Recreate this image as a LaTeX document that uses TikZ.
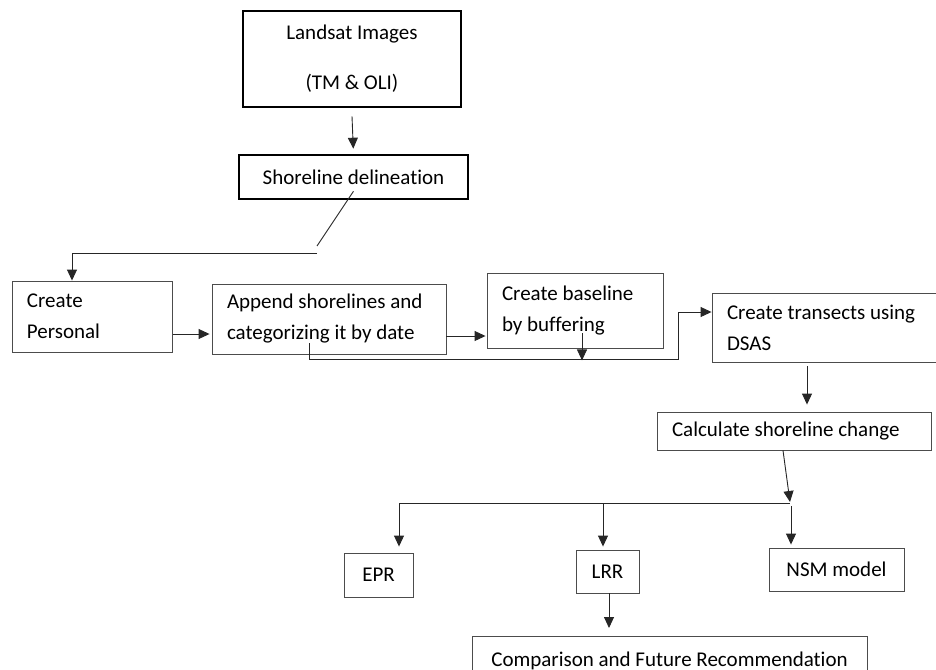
\documentclass[tikz,border=0pt]{standalone}
\usepackage{fontspec}
\setmainfont{Carlito}[Ligatures=NoCommon]
\usepackage{tikz}
\usetikzlibrary{arrows.meta,positioning}
\tikzset{
  box/.style   = {draw=black!70, line width=0.9pt, fill=white, inner xsep=15pt, inner ysep=0pt,
                  align=flush left, font=\fontsize{21}{31}\selectfont},
  tbox/.style  = {box, draw=black, line width=2.6pt, align=center},
  sbox/.style  = {box, align=center, inner xsep=0pt},
  wire/.style  = {line width=0.9pt, black!85},
  arr/.style   = {wire, -{Triangle[length=11pt,width=10pt]}},
}

\begin{document}
\begin{tikzpicture}[x=1pt,y=-1pt]
  \useasboundingbox (0,0) rectangle (936,669);
  \node[tbox, minimum width=218pt, minimum height=96pt] (land) at (352,59) {Landsat Images\\[19pt](TM \& OLI)};
  \node[tbox, minimum width=229pt, minimum height=44pt] (shore) at (353.5,177) {Shoreline delineation};
  \node[box, text width=130pt, minimum height=71pt] (pers) at (92,316.5) {Create\\Personal};
  \node[box, text width=204pt, minimum height=70pt] (app) at (329,319) {Append shorelines and\\categorizing it by date};
  \node[box, text width=146pt, minimum height=75pt] (base) at (575,310.5) {Create baseline\\by buffering};
  \node[box, text width=203pt, minimum height=69pt] (dsas) at (828.5,327.5) {Create transects using\\DSAS};
  \node[box, text width=244pt, minimum height=38pt] (calc) at (794,431) {Calculate shoreline change};
  \node[sbox, minimum width=69pt, minimum height=44pt] (epr) at (378.5,575) {EPR};
  \node[sbox, minimum width=63pt, minimum height=43pt] (lrr) at (607.5,571.5) {LRR};
  \node[sbox, minimum width=135pt, minimum height=43pt] (nsm) at (836.5,569.5) {NSM model};
  \node[sbox, minimum width=395pt, minimum height=48pt, anchor=north] (comp) at (669.5,636) {Comparison and Future Recommendation};

  \coordinate (kink)  at (317,246);
  \coordinate (turn)  at (72,253);
  \coordinate (loopa) at (309,343);
  \coordinate (loopb) at (678,359);
  \coordinate (split) at (790,502);
  \coordinate (hl)    at (399,503);
  \coordinate (hm)    at (603,503);
  \coordinate (hr)    at (791,506);
  \coordinate (lb)    at ([xshift=1.5pt]lrr.south);

  \draw[arr, shorten >=5pt] ([yshift=-8pt]land.south) -- (shore.north);
  \draw[wire] ([yshift=9pt]shore.south) -- (kink);
  \draw[arr] (kink |- turn) -- (turn) -- (turn |- pers.north);
  \draw[arr, shorten <=1pt, shorten >=2pt] ([yshift=-17.5pt]pers.east) -- ([yshift=-15pt]app.west);
  \draw[arr, shorten >=1pt] ([yshift=-17pt]app.east) -- ([yshift=-25.5pt]base.west);
  \draw[arr] (loopa) |- (loopb) |- ([yshift=15.5pt]dsas.west);
  \draw[arr] ([xshift=7pt,yshift=15pt]base.south) -- ++(0,27);
  \draw[arr, shorten >=7pt] ([xshift=-21.5pt,yshift=-4pt]dsas.south) -- ([xshift=13pt]calc.north);
  \draw[arr] ([xshift=-11pt]calc.south) -- (split);
  \draw[wire] (hl) -- (split |- hl);
  \draw[arr, shorten >=6pt] (hl) -- (hl |- epr.north);
  \draw[arr, shorten >=3pt] (hm) -- (hm |- lrr.north);
  \draw[arr, shorten >=3pt] (hr) -- (hr |- nsm.north);
  \draw[arr, shorten >=8pt] (lb) -- (lb |- comp.north);
\end{tikzpicture}
\end{document}
